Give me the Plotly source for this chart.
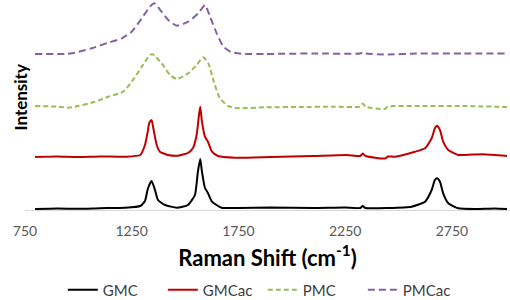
import plotly.graph_objects as go

# ---- Data (intensity in arbitrary units incl. stacking offset)
gmc_x = [797, 900, 1000, 1100, 1218, 1290, 1312, 1326, 1343, 1359, 1373, 1406, 1462, 1513,
         1546, 1560, 1571, 1579, 1593, 1607, 1626, 1671, 1750, 1900, 2100, 2250, 2320, 2332,
         2345, 2450, 2561, 2624, 2655, 2670, 2681, 2694, 2709, 2733, 2780, 2858, 2950, 3008]
gmc_y = [1.0, 1.5, 1.2, 1.8, 2.3, 4, 9, 21.7, 29, 20, 10, 5, 2.3, 5,
         15, 38.3, 51, 38.3, 22, 17, 8.3, 2.3, 2, 2.5, 2, 2.5, 2, 4,
         2, 2, 3.3, 8.3, 20, 30, 31.7, 28.3, 16.7, 6.7, 1.7, 1, 1.5, 1]

gmcac_x = [797, 900, 1000, 1100, 1218, 1290, 1312, 1325, 1332, 1343, 1351, 1367, 1382, 1420,
           1467, 1513, 1537, 1554, 1565, 1571, 1579, 1593, 1607, 1626, 1654, 1734, 1900, 2100,
           2258, 2320, 2332, 2345, 2436, 2450, 2483, 2577, 2624, 2655, 2670, 2680, 2694, 2709,
           2733, 2780, 2802, 2895, 3008]
gmcac_y = [53, 53.5, 53, 53.5, 53.3, 55, 65, 78.3, 87, 90, 82, 65, 58.3, 55,
           54.3, 57, 62, 75, 95, 103.3, 88.3, 73.3, 68.3, 58.3, 54, 52.3, 53, 54,
           55, 54, 56.5, 54, 51.5, 53.5, 53.3, 58.3, 61.7, 71.7, 81.7, 84.3, 80, 68.3,
           60, 55, 55, 55.7, 54]

pmc_x = [797, 906, 953, 1000, 1078, 1140, 1210, 1250, 1297, 1335, 1348, 1390, 1429, 1461,
         1515, 1554, 1585, 1609, 1632, 1663, 1702, 1749, 1874, 2038, 2200, 2320, 2332, 2345,
         2436, 2450, 2600, 2800, 3008]
pmc_y = [104, 103.3, 102.3, 104, 108.3, 113.3, 118.3, 128.3, 143.3, 155, 155.7, 146.7, 135, 131,
         136.7, 145, 152.7, 146.7, 130, 111.7, 104, 101.7, 102.7, 103, 103.3, 103.3, 106.5, 103.3,
         101, 103.5, 104, 104, 103]

pmcac_x = [797, 937, 984, 1062, 1140, 1203, 1250, 1297, 1335, 1356, 1390, 1421, 1461, 1515,
           1562, 1593, 1617, 1648, 1679, 1718, 1780, 1874, 2100, 2320, 2332, 2345, 2436, 2600,
           2800, 3008]
pmcac_y = [156, 156, 157.3, 161.7, 167.3, 171.7, 178.3, 191.7, 203.3, 206.7, 198.3, 190, 184.3, 188.3,
           196.7, 205, 193.3, 176.7, 163.3, 157.7, 156, 156, 156.5, 156.5, 157.5, 156.5, 155.5, 156.5,
           156.5, 156.5]

x_ticks = [750, 1250, 1750, 2250, 2750]

FONT = "Lato"

fig = go.Figure()
fig.add_trace(go.Scatter(x=gmc_x, y=gmc_y, mode="lines", name="GMC",
                         line=dict(color="#000000", width=2, shape="spline", smoothing=0.5)))
fig.add_trace(go.Scatter(x=gmcac_x, y=gmcac_y, mode="lines", name="GMCac",
                         line=dict(color="#c00000", width=2, shape="spline", smoothing=0.5)))
fig.add_trace(go.Scatter(x=pmc_x, y=pmc_y, mode="lines", name="PMC",
                         line=dict(color="#9bbb59", width=2, dash="5px,3px", shape="spline", smoothing=0.5)))
fig.add_trace(go.Scatter(x=pmcac_x, y=pmcac_y, mode="lines", name="PMCac",
                         line=dict(color="#8064a2", width=2, dash="7px,4px", shape="spline", smoothing=0.5)))

fig.update_layout(
    width=510, height=300,
    margin=dict(l=25, r=0, t=2, b=90, autoexpand=False),
    paper_bgcolor="white", plot_bgcolor="white",
    font=dict(family=FONT, size=14, color="#595959"),
    showlegend=True,
    legend=dict(orientation="h", x=0.078, xanchor="left", y=-0.385, yanchor="middle",
                font=dict(family=FONT, size=15, color="#404040"), itemwidth=30,
                entrywidth=55, entrywidthmode="pixels"),
    xaxis=dict(range=[750, 3022], tickvals=x_ticks, ticktext=[str(v) for v in x_ticks],
               showgrid=False, zeroline=False, showline=True, linecolor="#d9d9d9", linewidth=1,
               ticks="", ticklabelstandoff=8, automargin=False,
               tickfont=dict(family=FONT, size=14, color="#595959"),
               title=dict(text="<b>Raman Shift (cm<sup>-1</sup>)</b>", standoff=12,
                          font=dict(family=FONT, size=22, color="#000000"))),
    yaxis=dict(range=[0, 208], showticklabels=False, showgrid=False, zeroline=False,
               showline=False, ticks="", automargin=False),
    annotations=[dict(text="<b>Intensity</b>", textangle=-90, showarrow=False,
                      xref="paper", yref="paper", x=-0.0103, y=0.541,
                      xanchor="center", yanchor="middle",
                      font=dict(family=FONT, size=17, color="#000000"))],
)

fig.write_html("out.html", config={"displayModeBar": False},
               post_script="document.body.style.margin='0px';")
